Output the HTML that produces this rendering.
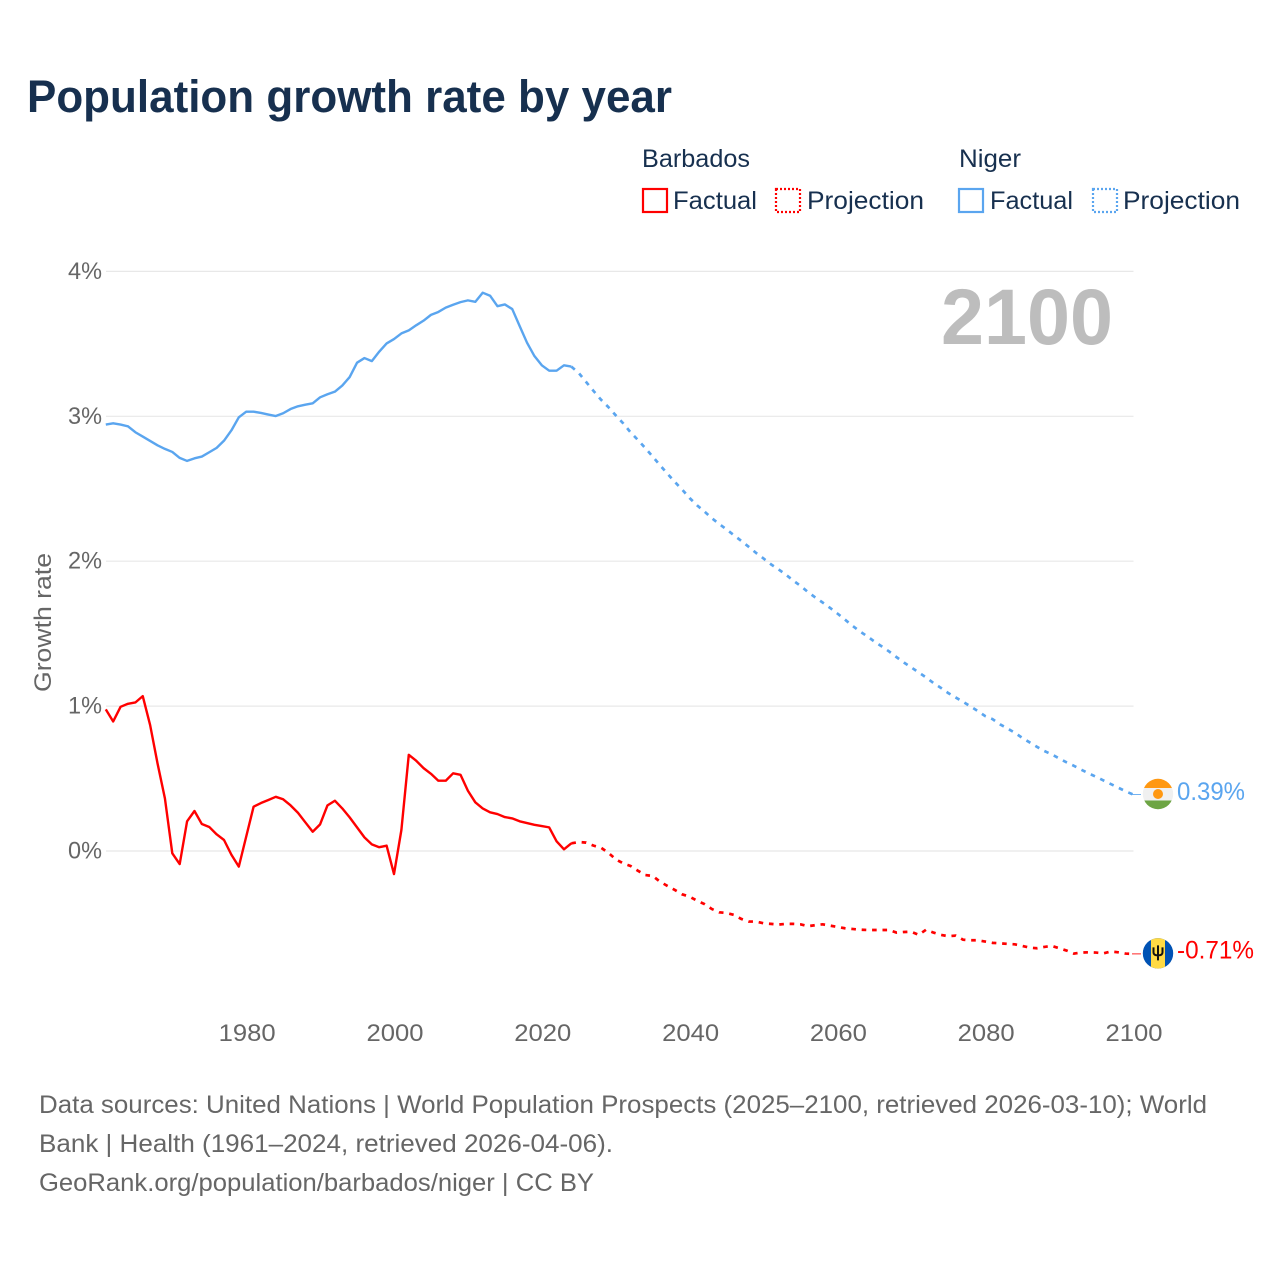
<!DOCTYPE html>
<html lang="en">
<head>
<meta charset="utf-8">
<title>Population growth rate by year</title>
<style>
html,body{margin:0;padding:0;background:#fff;}
svg{display:block;}
text{font-family:"Liberation Sans",sans-serif;}
</style>
</head>
<body>
<svg id="chart" xmlns="http://www.w3.org/2000/svg" width="1280" height="1280" viewBox="0 0 1280 1280">
  <rect x="0" y="0" width="1280" height="1280" fill="#fff"/>
  <text x="27" y="112" font-size="45" font-weight="700" fill="#17304f" textLength="645" lengthAdjust="spacingAndGlyphs">Population growth rate by year</text>

  <g font-size="25" fill="#17304f">
    <text x="642" y="167" textLength="108" lengthAdjust="spacingAndGlyphs">Barbados</text>
    <text x="959" y="167" textLength="62" lengthAdjust="spacingAndGlyphs">Niger</text>
    <rect x="643" y="189" width="24" height="23" fill="none" stroke="#ff0000" stroke-width="2.2"/>
    <text x="673" y="209" textLength="84" lengthAdjust="spacingAndGlyphs">Factual</text>
    <rect x="776" y="189" width="24" height="23" fill="none" stroke="#ff0000" stroke-width="2.2" stroke-dasharray="2 2"/>
    <text x="807" y="209" textLength="117" lengthAdjust="spacingAndGlyphs">Projection</text>
    <rect x="959" y="189" width="24" height="23" fill="none" stroke="#5aa5ef" stroke-width="2.2"/>
    <text x="990" y="209" textLength="83" lengthAdjust="spacingAndGlyphs">Factual</text>
    <rect x="1093" y="189" width="24" height="23" fill="none" stroke="#5aa5ef" stroke-width="2.2" stroke-dasharray="2 2"/>
    <text x="1123" y="209" textLength="117" lengthAdjust="spacingAndGlyphs">Projection</text>
  </g>

  <g id="grid"></g>
  <g id="yticks"></g>
  <g id="xticks"></g>
  <text transform="translate(51,622.5) rotate(-90)" text-anchor="middle" font-size="24" fill="#666666" textLength="139" lengthAdjust="spacingAndGlyphs">Growth rate</text>
  <text x="1113" y="344" text-anchor="end" font-size="79" font-weight="700" fill="#bdbdbd" textLength="172" lengthAdjust="spacingAndGlyphs">2100</text>

  <g id="series"></g>

  <g id="flag-niger">
    <clipPath id="clip-niger"><circle cx="0" cy="0" r="15.2"/></clipPath>
    <g clip-path="url(#clip-niger)">
      <rect x="-16" y="-16" width="32" height="32" fill="#f0f0f0"/>
      <rect x="-16" y="-16" width="32" height="10" fill="#ff9811"/>
      <rect x="-16" y="6.5" width="32" height="10" fill="#6da544"/>
      <circle cx="0" cy="0" r="5" fill="#ff9811"/>
    </g>
  </g>
  <g id="flag-barbados">
    <clipPath id="clip-barbados"><circle cx="0" cy="0" r="15.2"/></clipPath>
    <g clip-path="url(#clip-barbados)">
      <rect x="-16" y="-16" width="32" height="32" fill="#0052b4"/>
      <rect x="-7" y="-16" width="14" height="32" fill="#ffda44"/>
      <path d="M-4.5 -6 V-1 Q-4.5 2 0 2 Q4.5 2 4.5 -1 V-6 M0 -8 V7" fill="none" stroke="#111" stroke-width="2"/>
    </g>
  </g>

  <g font-size="25" fill="#666666">
    <text x="39" y="1113" textLength="1168" lengthAdjust="spacingAndGlyphs">Data sources: United Nations | World Population Prospects (2025–2100, retrieved 2026-03-10); World</text>
    <text x="39" y="1152" textLength="574" lengthAdjust="spacingAndGlyphs">Bank | Health (1961–2024, retrieved 2026-04-06).</text>
    <text x="39" y="1191" textLength="555" lengthAdjust="spacingAndGlyphs">GeoRank.org/population/barbados/niger | CC BY</text>
  </g>
</svg>
<script>
const factualStartYear = 1961;
const projectionStartYear = 2024;
const yTickValues = [0, 1, 2, 3, 4];
const yTickLabels = ['0%', '1%', '2%', '3%', '4%'];
const xTickLabels = [1980, 2000, 2020, 2040, 2060, 2080, 2100];

const barbadosFactual = [0.977,0.894,0.995,1.016,1.025,1.069,0.869,0.605,0.363,-0.016,-0.09,0.205,0.276,0.186,0.166,0.115,0.076,-0.026,-0.108,0.099,0.306,0.331,0.352,0.374,0.357,0.315,0.264,0.198,0.133,0.184,0.315,0.347,0.294,0.232,0.163,0.094,0.046,0.026,0.037,-0.159,0.145,0.664,0.623,0.572,0.533,0.485,0.485,0.536,0.526,0.416,0.336,0.294,0.267,0.255,0.234,0.225,0.205,0.193,0.181,0.172,0.163,0.067,0.012,0.053];
const barbadosProjection = [0.053,0.062,0.058,0.037,0.023,-0.012,-0.057,-0.085,-0.103,-0.136,-0.166,-0.172,-0.212,-0.241,-0.269,-0.299,-0.315,-0.343,-0.366,-0.40,-0.423,-0.428,-0.441,-0.469,-0.487,-0.487,-0.499,-0.503,-0.508,-0.503,-0.503,-0.506,-0.519,-0.512,-0.506,-0.515,-0.524,-0.533,-0.538,-0.543,-0.545,-0.545,-0.545,-0.545,-0.563,-0.559,-0.557,-0.579,-0.543,-0.563,-0.579,-0.588,-0.584,-0.612,-0.616,-0.616,-0.625,-0.634,-0.637,-0.641,-0.644,-0.655,-0.667,-0.671,-0.662,-0.655,-0.671,-0.687,-0.708,-0.701,-0.699,-0.701,-0.706,-0.694,-0.699,-0.708,-0.71];
const nigerFactual = [2.943,2.952,2.943,2.931,2.89,2.86,2.83,2.8,2.775,2.754,2.713,2.692,2.71,2.722,2.752,2.782,2.832,2.903,2.993,3.032,3.032,3.023,3.012,3.002,3.021,3.05,3.069,3.08,3.09,3.131,3.152,3.17,3.212,3.271,3.37,3.402,3.381,3.446,3.503,3.533,3.572,3.593,3.628,3.66,3.70,3.72,3.75,3.77,3.788,3.80,3.79,3.853,3.832,3.76,3.772,3.74,3.623,3.508,3.416,3.352,3.315,3.315,3.352,3.343];
const nigerProjection = [3.343,3.299,3.237,3.175,3.115,3.064,3.007,2.952,2.89,2.837,2.781,2.722,2.662,2.604,2.547,2.494,2.436,2.386,2.343,2.297,2.257,2.219,2.179,2.14,2.099,2.057,2.019,1.979,1.945,1.908,1.867,1.83,1.788,1.75,1.715,1.678,1.639,1.598,1.556,1.517,1.483,1.446,1.412,1.377,1.338,1.301,1.267,1.232,1.198,1.159,1.126,1.09,1.06,1.03,0.998,0.966,0.931,0.91,0.874,0.846,0.816,0.781,0.75,0.719,0.69,0.667,0.639,0.612,0.588,0.561,0.536,0.512,0.487,0.462,0.437,0.412,0.39];

const NS = 'http://www.w3.org/2000/svg';
function xScale(year) { return 1133 - (2100 - year) * 7.39; }
function yScale(value) { return 851 - value * 144.9; }
function make(tag, attrs, parent) {
  const el = document.createElementNS(NS, tag);
  for (const k in attrs) el.setAttribute(k, attrs[k]);
  parent.appendChild(el);
  return el;
}
function linePath(values, startYear) {
  return values.map((v, i) => (i ? 'L' : 'M') + xScale(startYear + i).toFixed(2) + ' ' + yScale(v).toFixed(2)).join(' ');
}

const gridG = document.getElementById('grid');
const yG = document.getElementById('yticks');
const xG = document.getElementById('xticks');
const seriesG = document.getElementById('series');

yTickValues.forEach((v, i) => {
  const line = make('line', {x1: 106, x2: 1133.5, y1: yScale(v), y2: yScale(v), stroke: '#e8e8e8', 'stroke-width': 1.2}, gridG);
  
  
  const t = make('text', {x: 102, y: yScale(v) + 7.5, 'text-anchor': 'end', 'font-size': 24, fill: '#666666', textLength: 34, lengthAdjust: 'spacingAndGlyphs'}, yG);
  t.textContent = yTickLabels[i];
  
  
});

xTickLabels.forEach((year) => {
  const t = make('text', {x: xScale(year) + 1, y: 1041, 'text-anchor': 'middle', 'font-size': 24, fill: '#666666', textLength: 57, lengthAdjust: 'spacingAndGlyphs'}, xG);
  t.textContent = String(year);
  
  
});

function drawSeries(name, color, factual, projection, flagId, labelExtra, labelDy) {
  const f = make('path', {d: linePath(factual, factualStartYear), fill: 'none', stroke: color, 'stroke-width': 2.4, 'stroke-linejoin': 'round'}, seriesG);
  
  
  const p = make('path', {d: linePath(projection, projectionStartYear), fill: 'none', stroke: color, 'stroke-width': 2.7, 'stroke-dasharray': '4.6 5.8'}, seriesG);
  
  
  const last = projection[projection.length - 1];
  const lastX = xScale(projectionStartYear + projection.length - 1);
  const c = make('line', {x1: lastX - 1, x2: lastX + 8, y1: yScale(last), y2: yScale(last), stroke: color, 'stroke-width': 1, opacity: 0.85}, seriesG);
  
  
  document.getElementById(flagId).setAttribute('transform', 'translate(' + (lastX + 25) + ',' + (yScale(last) - 0.5) + ')');
  const t = make('text', {x: lastX + 44, y: yScale(last) + labelDy, 'font-size': 25, fill: color, textLength: labelExtra, lengthAdjust: 'spacingAndGlyphs'}, seriesG);
  t.textContent = last.toFixed(2) + '%';
  
  
}
drawSeries('barbados', '#ff0000', barbadosFactual, barbadosProjection, 'flag-barbados', 77, 4.5);
drawSeries('niger', '#5aa5ef', nigerFactual, nigerProjection, 'flag-niger', 68, 5.5);
</script>
</body>
</html>
